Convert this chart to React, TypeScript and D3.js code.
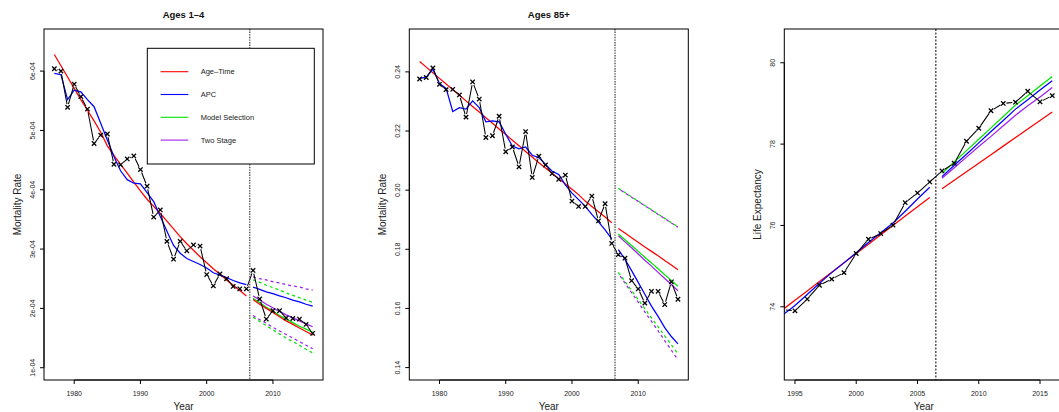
import React from "react";
import * as d3 from "d3";

const FONT = "'Liberation Sans', Arial, Helvetica, sans-serif";

const COLORS = {
  ageTime: "#FF0000",
  apc: "#0000FF",
  modelSel: "#00E400",
  twoStage: "#A020F0",
};

// Years
const yearsAll = d3.range(1977, 2017);
const yearsFit = d3.range(1977, 2007);
const yearsFc = d3.range(2007, 2017);
const yearsLe = d3.range(1994, 2017);
const yearsLeFit = d3.range(1994, 2007);

// ---- Ages 1-4 (mortality rate, in units of 1e-04) ----
const obs14 = [6.04, 6.0, 5.39, 5.78, 5.57, 5.36, 4.78, 4.92, 4.94, 4.43, 4.42, 4.52, 4.57, 4.34, 4.06, 3.54, 3.66, 3.13, 2.83, 3.13, 2.97, 3.07, 3.05, 2.57, 2.38, 2.58, 2.5, 2.37, 2.33, 2.33, 2.64, 2.16, 1.82, 1.96, 1.96, 1.84, 1.83, 1.82, 1.73, 1.58];
const ageTimeFit14 = [6.28, 6.09, 5.9, 5.71, 5.52, 5.34, 5.16, 4.97, 4.74, 4.58, 4.43, 4.28, 4.13, 3.98, 3.84, 3.72, 3.6, 3.47, 3.34, 3.21, 3.09, 2.98, 2.87, 2.77, 2.67, 2.58, 2.48, 2.39, 2.3, 2.21];
const apcFit14 = [5.96, 5.94, 5.52, 5.68, 5.65, 5.52, 5.4, 5.12, 4.84, 4.56, 4.32, 4.17, 4.11, 4.1, 3.95, 3.8, 3.55, 3.3, 3.06, 2.93, 2.84, 2.79, 2.74, 2.68, 2.6, 2.56, 2.52, 2.47, 2.43, 2.4];
const ageTimeFc14 = [2.15, 2.07, 2.0, 1.93, 1.86, 1.79, 1.73, 1.67, 1.61, 1.55];
const apcFc14 = [2.36, 2.32, 2.28, 2.25, 2.21, 2.18, 2.14, 2.11, 2.07, 2.04];
const modelSelFc14 = [2.17, 2.1, 2.02, 1.95, 1.88, 1.82, 1.76, 1.7, 1.65, 1.6];
const twoStageFc14 = [2.21, 2.14, 2.07, 2.01, 1.95, 1.89, 1.84, 1.79, 1.74, 1.69];
const modelSelHi14 = [2.48, 2.44, 2.39, 2.35, 2.31, 2.26, 2.22, 2.18, 2.14, 2.1];
const modelSelLo14 = [1.85, 1.78, 1.71, 1.64, 1.57, 1.5, 1.44, 1.38, 1.31, 1.25];
const twoStageHi14 = [2.53, 2.5, 2.48, 2.45, 2.43, 2.4, 2.38, 2.36, 2.33, 2.31];
const twoStageLo14 = [1.88, 1.81, 1.75, 1.68, 1.62, 1.56, 1.5, 1.44, 1.38, 1.32];
const yTicks14 = [1, 2, 3, 4, 5, 6];
const yTickLabels14 = ["1e-04", "2e-04", "3e-04", "4e-04", "5e-04", "6e-04"];

// ---- Ages 85+ (mortality rate) ----
const obs85 = [0.2376, 0.2381, 0.2413, 0.2358, 0.234, 0.2341, 0.2322, 0.2247, 0.2366, 0.2308, 0.2178, 0.2184, 0.225, 0.213, 0.2146, 0.2079, 0.2198, 0.2043, 0.2115, 0.2085, 0.2056, 0.2037, 0.2051, 0.1963, 0.1945, 0.1945, 0.198, 0.1896, 0.1954, 0.182, 0.1782, 0.177, 0.1694, 0.1666, 0.1618, 0.1658, 0.1658, 0.1613, 0.169, 0.1631];
const ageTimeFit85 = [0.2435, 0.2416, 0.2397, 0.2378, 0.2359, 0.234, 0.2321, 0.2302, 0.2283, 0.2264, 0.2245, 0.2226, 0.2207, 0.2188, 0.2169, 0.215, 0.2131, 0.2112, 0.2093, 0.2075, 0.2057, 0.2039, 0.2021, 0.2003, 0.1985, 0.1963, 0.1945, 0.1927, 0.1909, 0.189];
const apcFit85 = [0.2378, 0.2382, 0.2409, 0.2361, 0.2344, 0.2266, 0.2279, 0.2274, 0.2302, 0.2279, 0.2231, 0.2234, 0.2231, 0.2189, 0.2149, 0.214, 0.2146, 0.2118, 0.211, 0.2087, 0.2064, 0.2053, 0.2018, 0.199, 0.1968, 0.1945, 0.1918, 0.1893, 0.1866, 0.1835];
const ageTimeFc85 = [0.187, 0.1855, 0.1839, 0.1824, 0.1808, 0.1793, 0.1778, 0.1762, 0.1747, 0.1731];
const apcFc85 = [0.1799, 0.1766, 0.1728, 0.1688, 0.1648, 0.1608, 0.1573, 0.1535, 0.1505, 0.148];
const modelSelFc85 = [0.1852, 0.1832, 0.1813, 0.1793, 0.1773, 0.1754, 0.1734, 0.1714, 0.1695, 0.1675];
const twoStageFc85 = [0.1846, 0.1825, 0.1805, 0.1784, 0.1763, 0.1743, 0.1722, 0.1701, 0.1681, 0.166];
const modelSelHi85 = [0.2006, 0.1992, 0.1977, 0.1963, 0.1948, 0.1934, 0.1919, 0.1905, 0.189, 0.1876];
const modelSelLo85 = [0.1722, 0.1691, 0.1661, 0.163, 0.1599, 0.1568, 0.1538, 0.1507, 0.1477, 0.1446];
const twoStageHi85 = [0.2005, 0.1991, 0.1976, 0.1962, 0.1947, 0.1933, 0.1918, 0.1904, 0.1889, 0.1875];
const twoStageLo85 = [0.1718, 0.1686, 0.1653, 0.1621, 0.1588, 0.1556, 0.1524, 0.1491, 0.1459, 0.1426];
const yTicks85 = [0.14, 0.16, 0.18, 0.2, 0.22, 0.24];
const yTickLabels85 = ["0.14", "0.16", "0.18", "0.20", "0.22", "0.24"];

// ---- Life expectancy ----
const obsLe = [73.93, 73.9, 74.19, 74.53, 74.68, 74.84, 75.31, 75.66, 75.8, 76.01, 76.56, 76.8, 77.07, 77.34, 77.53, 78.07, 78.39, 78.82, 79.0, 79.03, 79.3, 79.04, 79.19];
const ageTimeFitLe = [73.93, 74.16, 74.39, 74.62, 74.85, 75.08, 75.31, 75.54, 75.77, 76.0, 76.23, 76.46, 76.69];
const apcFitLe = [73.8, 74.03, 74.3, 74.58, 74.84, 75.08, 75.33, 75.58, 75.82, 76.06, 76.35, 76.65, 76.94];
const ageTimeFcLe = [76.9, 77.11, 77.32, 77.53, 77.74, 77.95, 78.16, 78.37, 78.58, 78.79];
const apcFcLe = [77.2, 77.48, 77.75, 78.03, 78.31, 78.58, 78.86, 79.09, 79.33, 79.56];
const modelSelFcLe = [77.28, 77.56, 77.84, 78.12, 78.4, 78.68, 78.96, 79.19, 79.43, 79.66];
const twoStageFcLe = [77.16, 77.42, 77.68, 77.94, 78.19, 78.45, 78.71, 78.94, 79.16, 79.39];
const yTicksLe = [74, 76, 78, 80];

const xTicksRate = [1980, 1990, 2000, 2010];
const xTicksLe = [1995, 2000, 2005, 2010, 2015];

const legendLabels = ["Age\u2013Time", "APC", "Model Selection", "Two Stage"];
const legendColors = [COLORS.ageTime, COLORS.apc, COLORS.modelSel, COLORS.twoStage];

type Series = { years: number[]; values: number[]; color: string; dashed?: boolean; offset?: number };

type PanelDef = {
  id: string;
  title: string;
  ylab: string;
  box: { l: number; r: number; t: number; b: number };
  xDomain: [number, number];
  yDomain: [number, number];
  xTicks: number[];
  yTicks: number[];
  yTickLabels: string[];
  obsYears: number[];
  obs: number[];
  series: Series[];
  legend?: boolean;
};

const panels: PanelDef[] = [
  {
    id: "p1",
    title: "Ages 1\u20134",
    ylab: "Mortality Rate",
    box: { l: 44, r: 323, t: 29, b: 380 },
    xDomain: [1975.44, 2017.56],
    yDomain: [0.793, 6.71],
    xTicks: xTicksRate,
    yTicks: yTicks14,
    yTickLabels: yTickLabels14,
    obsYears: yearsAll,
    obs: obs14,
    series: [
      { years: yearsFc, values: modelSelHi14, color: COLORS.modelSel, dashed: true },
      { years: yearsFc, values: modelSelLo14, color: COLORS.modelSel, dashed: true },
      { years: yearsFc, values: twoStageHi14, color: COLORS.twoStage, dashed: true },
      { years: yearsFc, values: twoStageLo14, color: COLORS.twoStage, dashed: true },
      { years: yearsFit, values: ageTimeFit14, color: COLORS.ageTime },
      { years: yearsFit, values: apcFit14, color: COLORS.apc },
      { years: yearsFc, values: apcFc14, color: COLORS.apc },
      { years: yearsFc, values: twoStageFc14, color: COLORS.twoStage },
      { years: yearsFc, values: modelSelFc14, color: COLORS.modelSel },
      { years: yearsFc, values: ageTimeFc14, color: COLORS.ageTime },
    ],
    legend: true,
  },
  {
    id: "p2",
    title: "Ages 85+",
    ylab: "Mortality Rate",
    box: { l: 409.3, r: 688.3, t: 29, b: 380 },
    xDomain: [1975.44, 2017.56],
    yDomain: [0.1358, 0.2545],
    xTicks: xTicksRate,
    yTicks: yTicks85,
    yTickLabels: yTickLabels85,
    obsYears: yearsAll,
    obs: obs85,
    series: [
      { years: yearsFc, values: modelSelHi85, color: COLORS.modelSel, dashed: true },
      { years: yearsFc, values: modelSelLo85, color: COLORS.modelSel, dashed: true },
      { years: yearsFc, values: twoStageHi85, color: COLORS.twoStage, dashed: true, offset: 3 },
      { years: yearsFc, values: twoStageLo85, color: COLORS.twoStage, dashed: true, offset: 3 },
      { years: yearsFit, values: ageTimeFit85, color: COLORS.ageTime },
      { years: yearsFit, values: apcFit85, color: COLORS.apc },
      { years: yearsFc, values: apcFc85, color: COLORS.apc },
      { years: yearsFc, values: twoStageFc85, color: COLORS.twoStage },
      { years: yearsFc, values: modelSelFc85, color: COLORS.modelSel },
      { years: yearsFc, values: ageTimeFc85, color: COLORS.ageTime },
    ],
  },
  {
    id: "p3",
    title: "",
    ylab: "Life Expectancy",
    box: { l: 784.3, r: 1063.3, t: 29, b: 380 },
    xDomain: [1994.13, 2016.9],
    yDomain: [72.2, 80.83],
    xTicks: xTicksLe,
    yTicks: yTicksLe,
    yTickLabels: yTicksLe.map(String),
    obsYears: yearsLe,
    obs: obsLe,
    series: [
      { years: yearsLeFit, values: ageTimeFitLe, color: COLORS.ageTime },
      { years: yearsLeFit, values: apcFitLe, color: COLORS.apc },
      { years: yearsFc, values: ageTimeFcLe, color: COLORS.ageTime },
      { years: yearsFc, values: twoStageFcLe, color: COLORS.twoStage },
      { years: yearsFc, values: apcFcLe, color: COLORS.apc },
      { years: yearsFc, values: modelSelFcLe, color: COLORS.modelSel },
    ],
  },
];

const FORECAST_ORIGIN = 2006.5;

// R type="b": segments stop short of each point
function gappedPath(pts: [number, number][], gap: number) {
  let d = "";
  for (let i = 0; i < pts.length - 1; i++) {
    const [x1, y1] = pts[i];
    const [x2, y2] = pts[i + 1];
    const len = Math.hypot(x2 - x1, y2 - y1);
    if (len <= 2 * gap) continue;
    const ux = (x2 - x1) / len;
    const uy = (y2 - y1) / len;
    d += `M${x1 + ux * gap},${y1 + uy * gap}L${x2 - ux * gap},${y2 - uy * gap}`;
  }
  return d;
}

function Panel({ p }: { p: PanelDef }) {
  const { l, r, t, b } = p.box;
  const x = d3.scaleLinear().domain(p.xDomain).range([l, r]);
  const y = d3.scaleLinear().domain(p.yDomain).range([b, t]);
  const line = d3
    .line<[number, number]>()
    .x((d) => x(d[0]))
    .y((d) => y(d[1]));
  const obsPts: [number, number][] = p.obs.map((v, i) => [x(p.obsYears[i]), y(v)]);
  const cx = (l + r) / 2;
  const cy = (t + b) / 2;
  const clipId = `clip-${p.id}`;
  const xt0 = x(p.xTicks[0]);
  const xt1 = x(p.xTicks[p.xTicks.length - 1]);
  const yt0 = y(p.yTicks[0]);
  const yt1 = y(p.yTicks[p.yTicks.length - 1]);
  const m = 2.2;

  return (
    <g>
      <defs>
        <clipPath id={clipId}>
          <rect x={l} y={t} width={r - l} height={b - t} />
        </clipPath>
      </defs>
      <g clipPath={`url(#${clipId})`}>
        {p.series.map((s, i) => (
          <path
            key={i}
            d={line(s.values.map((v, j) => [s.years[j], v] as [number, number])) || ""}
            fill="none"
            stroke={s.color}
            strokeWidth={1.25}
            strokeDasharray={s.dashed ? "3 3" : undefined}
            strokeDashoffset={s.offset || 0}
          />
        ))}
        <path d={gappedPath(obsPts, 3.2)} fill="none" stroke="#000" strokeWidth={1.05} />
        {obsPts.map(([px, py], i) => (
          <path
            key={i}
            d={`M${px - m},${py - m}L${px + m},${py + m}M${px - m},${py + m}L${px + m},${py - m}`}
            stroke="#000"
            strokeWidth={1.3}
          />
        ))}
      </g>
      <line
        x1={x(FORECAST_ORIGIN)}
        x2={x(FORECAST_ORIGIN)}
        y1={t}
        y2={b}
        stroke={p.id === "p3" ? "#000" : "#555"}
        strokeWidth={p.id === "p3" ? 1 : 1.4}
        strokeDasharray={p.id === "p3" ? "2 1.5" : "1.4 1.2"}
      />
      <rect x={l} y={t} width={r - l} height={b - t} fill="none" stroke="#000" strokeWidth={1} />

      {/* x axis */}
      <line x1={xt0} x2={xt1} y1={b} y2={b} stroke="#000" strokeWidth={1} />
      {p.xTicks.map((tk) => (
        <g key={tk}>
          <line x1={x(tk)} x2={x(tk)} y1={b} y2={b + 4} stroke="#000" strokeWidth={1} />
          <text x={x(tk)} y={396} textAnchor="middle" fontSize={7} fill="#222" fontFamily={FONT}>
            {tk}
          </text>
        </g>
      ))}
      {/* y axis */}
      <line x1={l} x2={l} y1={yt0} y2={yt1} stroke="#000" strokeWidth={1} />
      {p.yTicks.map((tk, i) => (
        <g key={tk}>
          <line x1={l - 4} x2={l} y1={y(tk)} y2={y(tk)} stroke="#000" strokeWidth={1} />
          <text
            transform={`translate(${l - 9},${y(tk)}) rotate(-90)`}
            textAnchor="middle"
            fontSize={7}
            fill="#222"
            fontFamily={FONT}
          >
            {p.yTickLabels[i]}
          </text>
        </g>
      ))}

      {p.title && (
        <text x={cx} y={18} textAnchor="middle" fontSize={9.5} fontWeight="bold" fill="#111" fontFamily={FONT}>
          {p.title}
        </text>
      )}
      <text x={cx} y={410} textAnchor="middle" fontSize={10} fill="#222" fontFamily={FONT}>
        Year
      </text>
      <text
        transform={`translate(${l - 23.5},${cy}) rotate(-90)`}
        textAnchor="middle"
        fontSize={10}
        fill="#222"
        fontFamily={FONT}
      >
        {p.ylab}
      </text>

      {p.legend && (
        <g>
          <rect x={147.3} y={48.3} width={167} height={115.7} fill="#fff" stroke="#000" strokeWidth={1} />
          {legendLabels.map((lab, i) => {
            const ly = 71.7 + i * 22.8;
            return (
              <g key={lab}>
                <line x1={160.7} x2={188.3} y1={ly} y2={ly} stroke={legendColors[i]} strokeWidth={1.1} />
                <text x={200.7} y={ly + 2.6} fontSize={7.5} fill="#222" fontFamily={FONT}>
                  {lab}
                </text>
              </g>
            );
          })}
        </g>
      )}
    </g>
  );
}

export default function App() {
  return (
    <svg
      width={1059}
      height={412}
      style={{ position: "absolute", left: 0, top: 0, background: "#fff", display: "block" }}
    >
      <rect width={1059} height={412} fill="#fff" />
      {panels.map((p) => (
        <Panel key={p.id} p={p} />
      ))}
    </svg>
  );
}
